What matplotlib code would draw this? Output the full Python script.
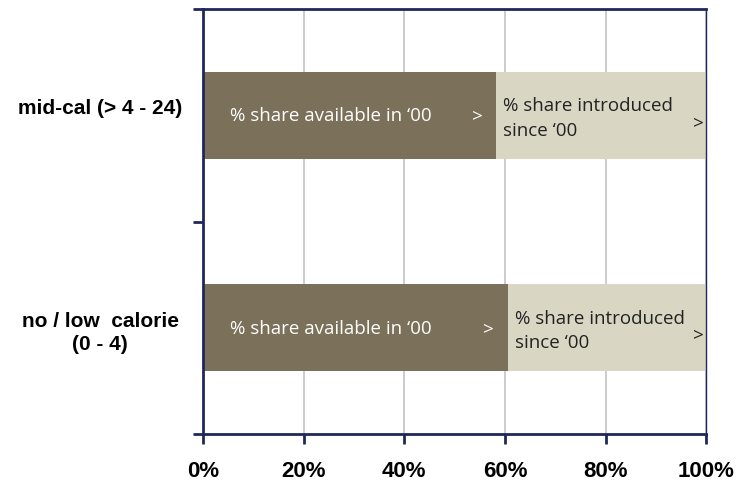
import matplotlib
matplotlib.use("Agg")
import matplotlib.pyplot as plt
import numpy as np

# calorie bands, bottom to top (the mid-cal label has an empty second line, as in the original)
categories = ["no / low  calorie\n(0 - 4)", "mid-cal (> 4 - 24)\n "]
share_available_00 = [60.6, 58.3]      # % share available in '00
share_introduced = [39.4, 41.7]        # % share introduced since '00
x_ticks = [0, 20, 40, 60, 80, 100]
x_tick_labels = ["0%", "20%", "40%", "60%", "80%", "100%"]

dark = "#7b7059"
light = "#d9d6c3"
navy = "#1f2858"

fig = plt.figure(figsize=(7.38, 4.81), dpi=100)
ax = fig.add_axes([0.275, 0.0956, 0.682, 0.8834])

y = np.arange(len(categories))
ax.barh(y, share_available_00, height=0.41, color=dark, zorder=2)
ax.barh(y, share_introduced, left=share_available_00, height=0.41, color=light, zorder=2)

ax.set_xlim(0, 100)
ax.set_ylim(-0.5, 1.5)

# in-bar labels
txt_font = "Open Sans"
fs = 13.5
for i in range(len(categories)):
    ax.text(5.4, y[i], "% share available in \u201800", color="white", fontsize=fs,
            family=txt_font, va="center", ha="left", zorder=3)
    ax.text(share_available_00[i] - 4.9, y[i], ">", color="white", fontsize=fs,
            family=txt_font, va="center", ha="left", zorder=3)
    ax.text(share_available_00[i] + 1.4, y[i] - 0.01, "% share introduced\nsince \u201800", color="#222222",
            fontsize=fs, family=txt_font, va="center", ha="left", linespacing=1.45, zorder=3)
    ax.text(97.4, y[i] - 0.03, ">", color="#222222", fontsize=fs,
            family=txt_font, va="center", ha="left", zorder=3)

ax.set_xticks(x_ticks)
ax.set_xticklabels(x_tick_labels, fontsize=16, fontweight="bold", family="Liberation Sans")
ax.set_yticks(y)
ax.set_yticklabels(categories, fontsize=15, fontweight="bold", family="Liberation Sans",
                   ha="center", linespacing=1.25)
ax.tick_params(axis="y", which="major", length=0, pad=74)
ax.set_yticks([-0.5, 0.5, 1.5], minor=True)
ax.tick_params(axis="y", which="minor", length=7, width=2, color=navy, direction="out")
ax.tick_params(axis="x", length=7, width=2, color=navy, direction="out", pad=12)

ax.grid(axis="x", color="#c4c4c4", linewidth=1.2, zorder=0)
ax.set_axisbelow(True)

for side in ["left", "bottom", "top"]:
    ax.spines[side].set_color(navy)
    ax.spines[side].set_linewidth(2)
ax.spines["right"].set_color(navy)
ax.spines["right"].set_linewidth(1)

fig.savefig("out.png", dpi=100)
